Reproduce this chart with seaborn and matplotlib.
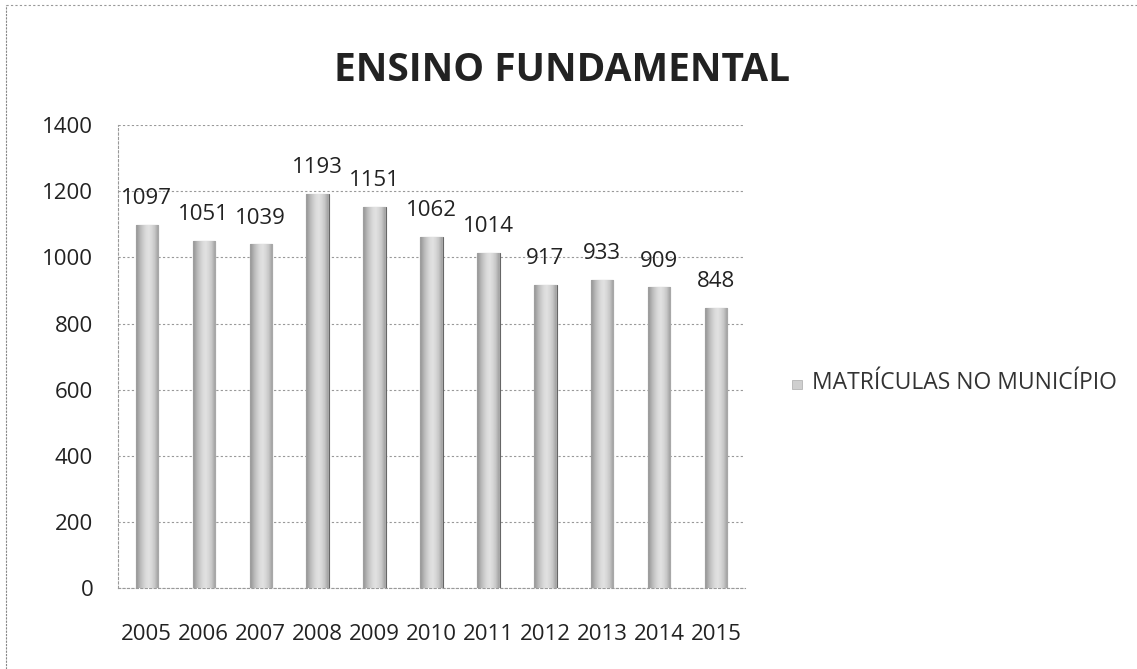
import numpy as np
import pandas as pd
import matplotlib
matplotlib.use("Agg")
import matplotlib.pyplot as plt
import seaborn as sns

# data
years = ["2005", "2006", "2007", "2008", "2009", "2010",
         "2011", "2012", "2013", "2014", "2015"]
matriculas = [1097, 1051, 1039, 1193, 1151, 1062, 1014, 917, 933, 909, 848]
series_name = "MATRÍCULAS NO MUNICÍPIO"
title = "ENSINO FUNDAMENTAL"

df = pd.DataFrame({"ano": years, "valor": matriculas})

sns.set_theme(style="white")
plt.rcParams["font.family"] = ["Open Sans", "DejaVu Sans"]

fig = plt.figure(figsize=(11.37, 6.69), dpi=100)
ax = fig.add_axes([0.104, 0.121, 0.551, 0.692])

sns.barplot(data=df, x="ano", y="valor", color="#cfcfcf", width=0.39,
            edgecolor="#666666", linewidth=0.8, ax=ax, zorder=3)

# fake the scanned gradient fill by clipping a shaded image to each bar
grad = np.array([[0.62, 0.72, 0.80, 0.86, 0.88, 0.84, 0.78, 0.66]])
for bar in ax.patches:
    x0, y0 = bar.get_x(), bar.get_y()
    w, h = bar.get_width(), bar.get_height()
    im = ax.imshow(grad, extent=[x0, x0 + w, y0, y0 + h], cmap="gray",
                   vmin=0, vmax=1, aspect="auto", zorder=3.5,
                   interpolation="bilinear")
    im.set_clip_path(bar)
ax.set_xlim(-0.5, len(years) - 0.5)
ax.set_ylim(0, 1400)

for i, v in enumerate(matriculas):
    ax.text(i, v + 80, str(v), ha="center", va="center", fontsize=16,
            color="#222222", zorder=5)

ax.set_yticks(range(0, 1401, 200))
ax.yaxis.grid(True, color="#999999", linestyle=(0, (2, 2)), linewidth=0.8)
ax.set_axisbelow(True)
ax.tick_params(axis="y", labelsize=16, colors="#222222", length=0, pad=18)
ax.tick_params(axis="x", labelsize=16, colors="#222222", length=0, pad=26)
ax.set_xlabel("")
ax.set_ylabel("")
for side in ["top", "right"]:
    ax.spines[side].set_visible(False)
for side in ["left", "bottom"]:
    ax.spines[side].set_color("#999999")
    ax.spines[side].set_linewidth(0.8)
    ax.spines[side].set_linestyle((0, (2, 2)))

fig.text(0.494, 0.895, title, ha="center", va="center", fontsize=28,
         fontweight="bold", color="#222222")

# legend entry on the right
fig.patches.append(plt.Rectangle((0.697, 0.419), 0.008, 0.013,
                                 transform=fig.transFigure, facecolor="#cfcfcf",
                                 edgecolor="#aaaaaa", linewidth=0.5))
fig.text(0.714, 0.427, series_name, ha="left", va="center", fontsize=16.5,
         color="#333333")

# outer frame of the scanned chart (only left and top edges show)
fig.add_artist(plt.Line2D([0.005, 0.005], [0.0, 0.993], transform=fig.transFigure,
                          color="#888888", linewidth=0.8, linestyle=(0, (2, 1))))
fig.add_artist(plt.Line2D([0.005, 1.0], [0.993, 0.993], transform=fig.transFigure,
                          color="#999999", linewidth=0.8, linestyle=(0, (2, 2))))

fig.savefig("out.png", dpi=100)
